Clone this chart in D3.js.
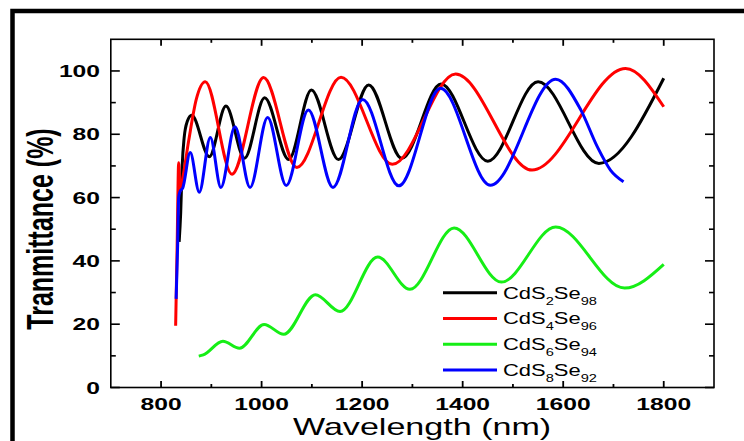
<!DOCTYPE html>
<html lang="en">

<head>
    <meta charset="UTF-8">
    <title>Transmittance CdSSe</title>
    <style>
        body { margin: 0; background: #fff; }
        text { font-family: Arial, "Liberation Sans", sans-serif; }
    </style>
</head>

<body>
    <svg id="vis"></svg>
    <script src="https://d3js.org/d3.v7.min.js"></script>
    <script>
        // Data (wavelength nm, transmittance %)
        const cds2se98 = [[836, 46], [839, 55], [842, 70], [846, 79], [852, 84], [861, 86], [896, 72.9], [929, 88.9], [966, 72.4], [1006, 91.5], [1054, 72], [1099, 94], [1153, 72], [1213, 95.6], [1279, 72.4], [1357, 95.9], [1450, 71.5], [1550, 96.6], [1671, 70.8], [1800, 97.7]]
        const cds4se96 = [[829, 19.5], [832, 45], [835, 71], [838, 62], [843, 66], [855, 78], [870, 91], [888, 96.6], [941, 67.4], [1004, 97.9], [1070, 69.5], [1158, 98], [1260, 70.5], [1386, 99], [1538, 68.7], [1724, 100.8], [1800, 88.7]]
        const cds6se94 = [[875, 9.9], [884, 10.3], [923, 14.6], [956, 12.4], [1005, 19.9], [1044, 16.8], [1107, 29.3], [1156, 24], [1231, 41.2], [1295, 31], [1383, 50.4], [1477, 33.3], [1585, 50.7], [1722, 31.4], [1800, 38.9]]
        const cds8se92 = [[830, 28], [833, 45], [835, 60], [838, 62], [843, 63], [858, 74.2], [876, 61.7], [898, 79], [919, 63.2], [947, 82.4], [977, 63.2], [1012, 85.3], [1049, 63.8], [1093, 87.7], [1142, 63.2], [1201, 91], [1273, 63.7], [1356, 94.5], [1455, 63.9], [1585, 97.4], [1635, 87.7], [1668, 76], [1694, 68.7], [1720, 65]]

        const series = [
            { sub1: '2', sub2: '98', color: '#000000', values: cds2se98 },
            { sub1: '4', sub2: '96', color: '#ff0000', values: cds4se96 },
            { sub1: '6', sub2: '94', color: '#16ee16', values: cds6se94 },
            { sub1: '8', sub2: '92', color: '#0000ff', values: cds8se92 }
        ]

        const xMajor = [800, 1000, 1200, 1400, 1600, 1800]
        const xMinor = [900, 1100, 1300, 1500, 1700]
        const yMajor = [0, 20, 40, 60, 80, 100]
        const yMinor = [10, 30, 50, 70, 90]

        // Layout
        const width = 744
        const height = 441
        const plotLeft = 110.8, plotRight = 714, plotTop = 39.3, plotBottom = 387.5
        const stretch = 1.45 // the original picture is stretched sideways

        const svg = d3.select('#vis')
            .attr('width', width)
            .attr('height', height)

        const x = d3.scaleLinear().domain([700, 1900]).range([plotLeft, plotRight])
        const y = d3.scaleLinear().domain([0, 110]).range([plotBottom, plotTop])

        // outer frame (right and bottom edges are cut off)
        svg.append('rect')
            .attr('x', 12.5).attr('y', 11)
            .attr('width', 800).attr('height', 500)
            .attr('fill', 'none').attr('stroke', '#000').attr('stroke-width', 4.5)

        // Curves
        const line = d3.line()
            .x(d => x(d[0]))
            .y(d => y(d[1]))
            .curve(d3.curveMonotoneX)

        svg.selectAll('path.curve')
            .data(series)
            .enter()
            .append('path')
            .attr('class', 'curve')
            .attr('d', d => line(d.values))
            .attr('fill', 'none')
            .attr('stroke', d => d.color)
            .attr('stroke-width', 3)
            .attr('stroke-linejoin', 'round')

        // Axes box with inward ticks
        const axisGroup = svg.append('g')
            .attr('stroke', '#000')

        axisGroup.append('rect')
            .attr('x', plotLeft).attr('y', plotTop)
            .attr('width', plotRight - plotLeft).attr('height', plotBottom - plotTop)
            .attr('fill', 'none').attr('stroke-width', 1.6)

        function xTicks(values, len) {
            values.forEach(v => {
                axisGroup.append('line').attr('x1', x(v)).attr('x2', x(v))
                    .attr('y1', plotBottom).attr('y2', plotBottom - len).attr('stroke-width', 1.8)
                axisGroup.append('line').attr('x1', x(v)).attr('x2', x(v))
                    .attr('y1', plotTop).attr('y2', plotTop + len).attr('stroke-width', 1.8)
            })
        }
        function yTicks(values, len) {
            values.forEach(v => {
                axisGroup.append('line').attr('y1', y(v)).attr('y2', y(v))
                    .attr('x1', plotLeft).attr('x2', plotLeft + len).attr('stroke-width', 1.6)
                axisGroup.append('line').attr('y1', y(v)).attr('y2', y(v))
                    .attr('x1', plotRight).attr('x2', plotRight - len).attr('stroke-width', 1.6)
            })
        }
        xTicks(xMajor, 6.5)
        xTicks(xMinor, 3.5)
        yTicks(yMajor, 9)
        yTicks(yMinor, 5)

        // Tick labels
        svg.selectAll('text.xlab')
            .data(xMajor)
            .enter()
            .append('text')
            .attr('class', 'xlab')
            .attr('transform', d => `translate(${x(d)},410) scale(${stretch},1)`)
            .attr('text-anchor', 'middle')
            .attr('font-size', 17)
            .attr('font-weight', 'bold')
            .text(d => d)

        svg.selectAll('text.ylab')
            .data(yMajor)
            .enter()
            .append('text')
            .attr('class', 'ylab')
            .attr('transform', d => `translate(100,${y(d) + 6}) scale(${stretch},1)`)
            .attr('text-anchor', 'end')
            .attr('font-size', 17)
            .attr('font-weight', 'bold')
            .text(d => d)

        // Axis titles
        svg.append('text')
            .attr('transform', `translate(293,434.5) scale(1.42,1)`)
            .attr('font-size', 24)
            .text('Wavelength (nm)')

        svg.append('text')
            .attr('transform', `translate(53,229) scale(${stretch},1) rotate(-90)`)
            .attr('text-anchor', 'middle')
            .attr('font-size', 25)
            .attr('font-weight', 'bold')
            .text('Tranmittance (%)')

        // Legend
        const legend = svg.selectAll('g.legend')
            .data(series)
            .enter()
            .append('g')
            .attr('class', 'legend')
            .attr('transform', (d, i) => `translate(443,${292.7 + i * 25.8})`)

        legend.append('line')
            .attr('x1', 0).attr('x2', 54)
            .attr('stroke', d => d.color)
            .attr('stroke-width', 3)

        const label = legend.append('text')
            .attr('transform', 'translate(60,5.8) scale(1.33,1)')
            .attr('font-size', 16.5)
        label.append('tspan').text('CdS')
        label.append('tspan').attr('font-size', 11).attr('dy', 6).text(d => d.sub1)
        label.append('tspan').attr('dy', -6).text('Se')
        label.append('tspan').attr('font-size', 11).attr('dy', 6).text(d => d.sub2)
    </script>
</body>

</html>
